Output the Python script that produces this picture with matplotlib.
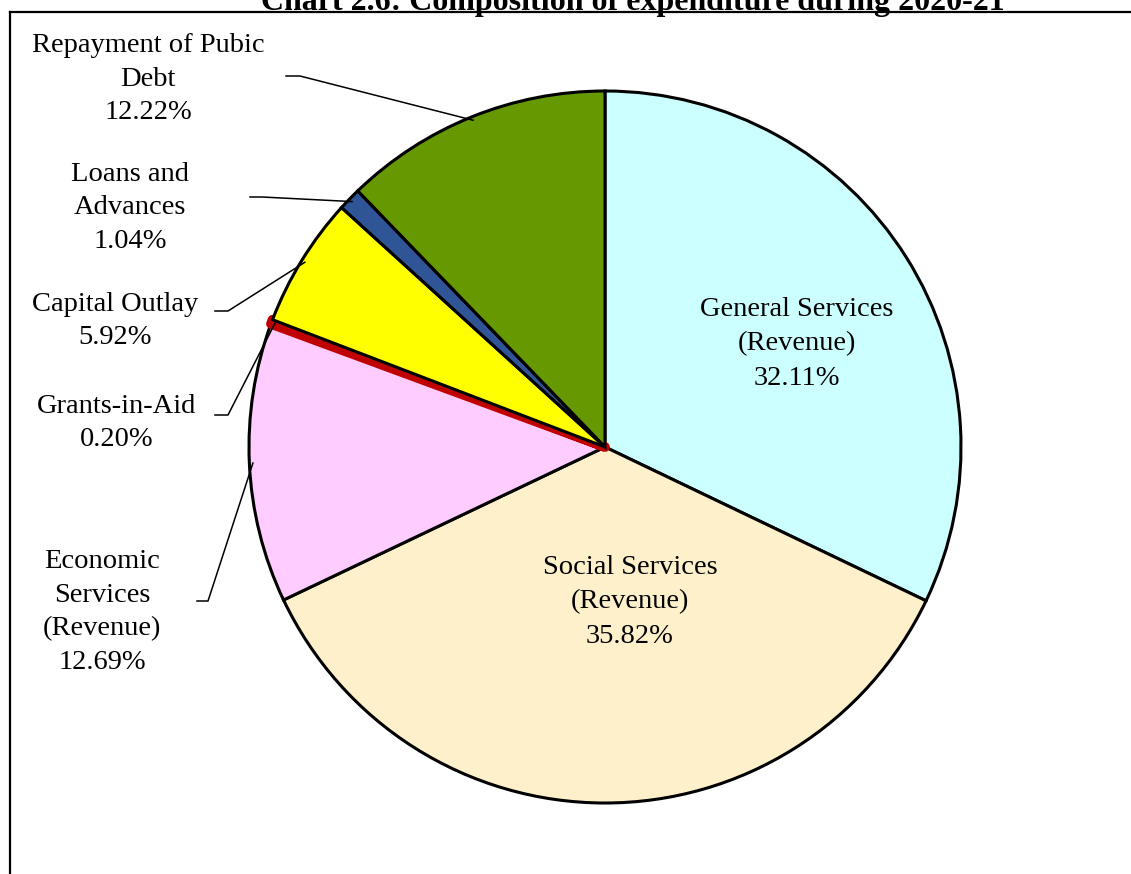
import matplotlib
matplotlib.use("Agg")
import matplotlib.pyplot as plt
import numpy as np

plt.rcParams["font.family"] = ["Liberation Serif", "DejaVu Serif"]

CATEGORIES = ["General Services\n(Revenue)", "Social Services\n(Revenue)",
              "Economic\nServices\n(Revenue)", "Grants-in-Aid", "Capital Outlay",
              "Loans and\nAdvances", "Repayment of Pubic\nDebt"]
SHARES = [32.11, 35.82, 12.69, 0.20, 5.92, 1.04, 12.22]
COLORS = ["#CCFFFF", "#FFF0CC", "#FFCCFF", "#C00000", "#FFFF00", "#2F5597", "#669900"]
TITLE = "Chart 2.6: Composition of expenditure during 2020-21"

W, H = 1131, 874
fig = plt.figure(figsize=(W / 100, H / 100), dpi=100)
ax = fig.add_axes([0, 0, 1, 1])

# pie in pixel-like data coords (y up)
CX, CY, R = 605, H - 447, 356
wedges, _ = ax.pie(SHARES, colors=COLORS, startangle=90, counterclock=False,
                   center=(CX, CY), radius=R,
                   wedgeprops=dict(edgecolor="black", linewidth=2.2))
# tiny grants slice drawn as a thick red stroke
wedges[3].set_edgecolor("#C00000")
wedges[3].set_linewidth(7)
wedges[3].set_joinstyle("round")
wedges[3].set_capstyle("round")

ax.set_xlim(0, W)
ax.set_ylim(0, H)
ax.set_aspect("equal")
ax.axis("off")


def mid_point(w, frac=1.0):
    a = np.deg2rad((w.theta1 + w.theta2) / 2)
    return CX + R * frac * np.cos(a), CY + R * frac * np.sin(a)


FS = 20.5
# inside labels
ax.text(797, H - 344, f"{CATEGORIES[0]}\n{SHARES[0]:.2f}%", ha="center",
        va="center", fontsize=FS, linespacing=1.5)
ax.text(630, H - 602, f"{CATEGORIES[1]}\n{SHARES[1]:.2f}%", ha="center",
        va="center", fontsize=FS, linespacing=1.5)

# outside labels: (index, text x, text y, stub start, stub end)
outside = [
    (2, 102, 612, (197, 601), (208, 601)),
    (3, 117, 423, (215, 415), (228, 415)),
    (4, 115, 321, (215, 311), (228, 311)),
    (5, 130, 208, (250, 197), (262, 197)),
    (6, 148, 79, (286, 76), (300, 76)),
]
for i, tx, ty, s0, s1 in outside:
    ax.text(tx, H - ty, f"{CATEGORIES[i]}\n{SHARES[i]:.2f}%", ha="center",
            va="center", fontsize=FS, linespacing=1.47)
    ex, ey = mid_point(wedges[i], 0.99)
    ax.plot([s0[0], s1[0], ex], [H - s0[1], H - s1[1], ey],
            color="black", lw=1.1, zorder=5)

# title (partly clipped at top) and frame lines
ax.text(633, H - 10, TITLE, ha="center", va="baseline", fontsize=23,
        fontweight="bold")
ax.plot([10, W], [H - 12, H - 12], color="black", lw=1.6)
ax.plot([10, 10], [H - 12, 0], color="black", lw=1.6)

fig.savefig("out.png", dpi=100)
